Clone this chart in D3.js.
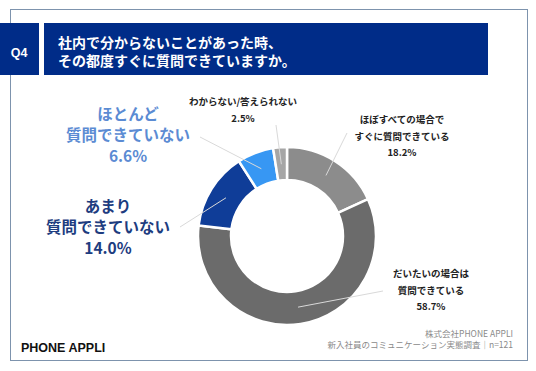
<!DOCTYPE html>
<html>
<head>
<meta charset="utf-8">
<script src="https://cdn.jsdelivr.net/npm/d3@7"></script>
<style>
  html, body { margin: 0; padding: 0; background: #fff; }
  svg { display: block; font-family: "Noto Sans CJK JP", "Noto Sans", sans-serif; }
</style>
</head>
<body>
<svg id="chart" width="536" height="371"></svg>
<script>
// answers, clockwise from 12 o'clock
const categories = [
  ['ほぼすべての場合で', 'すぐに質問できている'],
  ['だいたいの場合は', '質問できている'],
  ['あまり', '質問できていない'],
  ['ほとんど', '質問できていない'],
  ['わからない/答えられない']
];
const values = [18.2, 58.7, 14.0, 6.6, 2.5];
const sliceColors = ['#8c8c8c', '#6b6b6b', '#0f3d98', '#3797f3', '#a6a6a6'];
const labelColors = ['#222', '#222', '#1d3c80', '#5b8bd3', '#222'];
const titleLines = ['社内で分からないことがあった時、', 'その都度すぐに質問できていますか。'];
const sourceLines = ['株式会社PHONE APPLI', '新入社員のコミュニケーション実態調査｜n=121'];

const svg = d3.select('#chart');
const navy = '#002c88';

// card frame
svg.append('rect')
  .attr('x', 10.5).attr('y', 9.5)
  .attr('width', 517).attr('height', 351)
  .attr('fill', '#fff')
  .attr('stroke', '#7d93ad')
  .attr('stroke-width', 1);

// header
svg.append('rect').attr('x', 0).attr('y', 23).attr('width', 39).attr('height', 52).attr('fill', navy);
svg.append('rect').attr('x', 44).attr('y', 23).attr('width', 444).attr('height', 52).attr('fill', navy);
svg.append('text')
  .attr('x', 19).attr('y', 56.5)
  .attr('text-anchor', 'middle')
  .attr('fill', '#fff')
  .attr('font-family', 'Liberation Sans, Arial, sans-serif')
  .attr('font-weight', 700)
  .attr('font-size', 12.5)
  .text('Q4');
svg.append('text')
  .attr('fill', '#fff')
  .attr('font-weight', 700)
  .attr('font-size', 14)
  .selectAll('tspan')
  .data(titleLines)
  .enter()
  .append('tspan')
  .attr('x', 58)
  .attr('y', (d, i) => 48 + i * 18)
  .text(d => d);

// donut
const cx = 287, cy = 236;
const outerR = 89, innerR = 56;
const pie = d3.pie().sort(null).value(d => d);
const arcs = pie(values);
const arc = d3.arc().innerRadius(innerR).outerRadius(outerR);
const midArc = d3.arc().innerRadius(72).outerRadius(72);
const color = d3.scaleOrdinal().domain(d3.range(values.length)).range(sliceColors);

const g = svg.append('g').attr('transform', `translate(${cx},${cy})`);
g.selectAll('.slice')
  .data(arcs)
  .enter()
  .append('path')
  .attr('class', 'slice')
  .attr('d', arc)
  .attr('fill', (d, i) => color(i))
  .attr('stroke', '#fff')
  .attr('stroke-width', 2.5);

// label placement: where each text block sits relative to the chart center
const labelLayout = [
  {dx: 115, dy: -113, size: 9.5, lh: 16.5, weight: 600, lineTo: [60, -103]},
  {dx: 144, dy: 41, size: 9.5, lh: 16.5, weight: 600, lineTo: [96, 55]},
  {dx: -179, dy: -24, size: 15.5, lh: 21, weight: 700, lineTo: [-107, -9]},
  {dx: -159, dy: -116, size: 15.5, lh: 21, weight: 700, lineTo: [-87, -99]},
  {dx: -44, dy: -131, size: 9.5, lh: 16.5, weight: 600, lineTo: [-11, -111]}
];

// leader lines
g.selectAll('.leader')
  .data(arcs)
  .enter()
  .append('line')
  .attr('class', 'leader')
  .attr('x1', (d, i) => labelLayout[i].lineTo[0])
  .attr('y1', (d, i) => labelLayout[i].lineTo[1])
  .attr('x2', d => midArc.centroid(d)[0])
  .attr('y2', d => midArc.centroid(d)[1])
  .attr('stroke', '#d9d9d9')
  .attr('stroke-width', 1);

const labels = g.selectAll('.label')
  .data(arcs)
  .enter()
  .append('text')
  .attr('class', 'label')
  .attr('text-anchor', 'middle')
  .attr('fill', (d, i) => labelColors[i])
  .attr('font-weight', (d, i) => labelLayout[i].weight)
  .attr('font-size', (d, i) => labelLayout[i].size)
  .attr('transform', (d, i) => `translate(${labelLayout[i].dx},${labelLayout[i].dy})`);

labels.each(function(d, i) {
  const lines = categories[i].concat([d3.format('.1f')(values[i]) + '%']);
  const lay = labelLayout[i];
  d3.select(this).selectAll('tspan')
    .data(lines)
    .enter()
    .append('tspan')
    .attr('x', 0)
    .attr('y', (t, j) => j * lay.lh)
    .text(t => t);
});

// footer
svg.append('text')
  .attr('x', 21).attr('y', 352)
  .attr('fill', '#111')
  .attr('font-family', 'Liberation Sans, Arial, sans-serif')
  .attr('font-weight', 700)
  .attr('font-size', 12.5)
  .text('PHONE  APPLI');
svg.append('text')
  .attr('text-anchor', 'end')
  .attr('fill', '#8a8a8a')
  .attr('font-size', 8.5)
  .selectAll('tspan')
  .data(sourceLines)
  .enter()
  .append('tspan')
  .attr('x', 513)
  .attr('y', (d, i) => 337 + i * 11)
  .text(d => d);
</script>
</body>
</html>
